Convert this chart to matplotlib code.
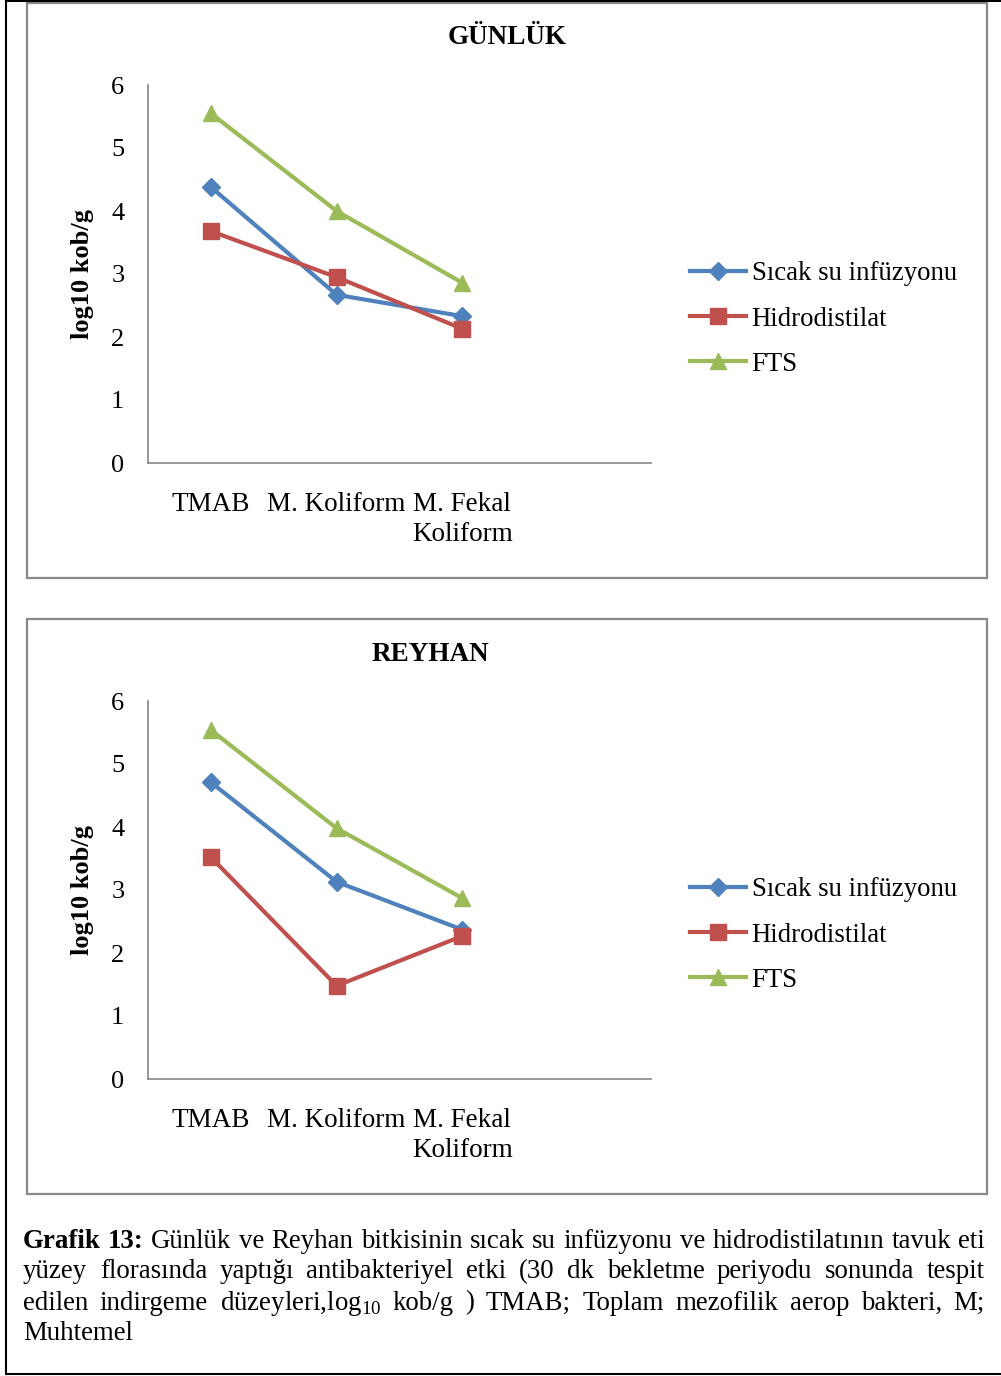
import matplotlib
matplotlib.use("Agg")
import matplotlib.pyplot as plt
from matplotlib.lines import Line2D
from matplotlib.patches import Rectangle

plt.rcParams['font.family'] = ['Liberation Serif', 'DejaVu Serif']
plt.rcParams['mathtext.fontset'] = 'custom'
plt.rcParams['mathtext.rm'] = 'Liberation Serif'

W, H = 1001, 1376

# Veriler
kategoriler = ['TMAB', 'M. Koliform', 'M. Fekal\nKoliform']
seriler = ['Sıcak su infüzyonu', 'Hidrodistilat', 'FTS']
gunluk_sicak = [4.38, 2.67, 2.33]
gunluk_hidro = [3.68, 2.95, 2.13]
gunluk_fts = [5.55, 4.00, 2.86]
reyhan_sicak = [4.71, 3.13, 2.37]
reyhan_hidro = [3.52, 1.48, 2.27]
reyhan_fts = [5.54, 3.98, 2.87]
y_ticks = [0, 1, 2, 3, 4, 5, 6]

renkler = ['#4F81BD', '#C0504D', '#9BBB59']
isaretler = ['D', 's', '^']
boyutlar = [9, 11, 11]

caption_lines = [
    ['Grafik', '13:', 'Günlük', 've', 'Reyhan', 'bitkisinin', 'sıcak', 'su', 'infüzyonu', 've',
     'hidrodistilatının', 'tavuk', 'eti'],
    ['yüzey', 'florasında', 'yaptığı', 'antibakteriyel', 'etki', '(30', 'dk', 'bekletme',
     'periyodu', 'sonunda', 'tespit'],
    ['edilen', 'indirgeme', r'düzeyleri,log$_{\mathrm{10}}$', 'kob/g', ')', 'TMAB;', 'Toplam',
     'mezofilik', 'aerop', 'bakteri,', 'M;'],
    ['Muhtemel'],
]

fig = plt.figure(figsize=(W / 100, H / 100), dpi=100)


def px_rect(x0, y0, x1, y1):
    return [x0 / W, 1 - y1 / H, (x1 - x0) / W, (y1 - y0) / H]


def fx(x):
    return x / W


def fy(y):
    return 1 - y / H


# dis cerceve
fig.add_artist(Line2D([fx(6), fx(6)], [fy(0), fy(1374)], color='black', lw=1.5))
fig.add_artist(Line2D([fx(6), fx(1001)], [fy(1374), fy(1374)], color='black', lw=1.5))
fig.add_artist(Line2D([fx(6), fx(1001)], [fy(0.5), fy(0.5)], color='black', lw=1.5))


def panel(top, baslik, baslik_x, d_sicak, d_hidro, d_fts):
    fig.add_artist(Rectangle((fx(27), fy(top + 575)), fx(987) - fx(27), fy(top) - fy(top + 575),
                             fill=False, edgecolor='#888888', lw=1.6))
    ax = fig.add_axes(px_rect(148, top + 82, 651, top + 460))
    x = list(range(len(kategoriler)))
    for vals, c, m, ms, lab in zip([d_sicak, d_hidro, d_fts], renkler, isaretler, boyutlar, seriler):
        ax.plot(x, vals, color=c, marker=m, markersize=ms, lw=3, label=lab, clip_on=False)
    ax.set_xlim(-0.5, 3.5)
    ax.set_ylim(0, 6)
    ax.set_yticks(y_ticks)
    ax.set_xticks(x)
    ax.set_xticklabels(kategoriler, fontsize=19.5, linespacing=1.25)
    ax.tick_params(axis='y', length=0, labelsize=19, pad=17)
    ax.tick_params(axis='x', length=0, pad=21)
    for s in ['top', 'right']:
        ax.spines[s].set_visible(False)
    for s in ['left', 'bottom']:
        ax.spines[s].set_color('#868686')
        ax.spines[s].set_linewidth(1.2)
    ax.set_ylabel('log10 kob/g', fontsize=19, fontweight='bold', labelpad=12)
    fig.text(fx(baslik_x), fy(top + 35), baslik, fontsize=19.5, fontweight='bold',
             ha='center', va='center')
    fig.legend(*ax.get_legend_handles_labels(), loc='center left',
               bbox_to_anchor=(fx(690), fy(top + 316)), bbox_transform=fig.transFigure,
               frameon=False, fontsize=19.3, handlelength=2.1, handletextpad=0.2,
               labelspacing=0.76, borderpad=0, borderaxespad=0)
    return ax


panel(3, 'GÜNLÜK', 507, gunluk_sicak, gunluk_hidro, gunluk_fts)
panel(619, 'REYHAN', 430, reyhan_sicak, reyhan_hidro, reyhan_fts)

# alt yazi, iki yana yasli
renderer = fig.canvas.get_renderer()
x_left, x_right = 23, 985
line_y = [1242, 1272, 1303, 1333]
for i, words in enumerate(caption_lines):
    texts = []
    for j, w in enumerate(words):
        bold = (i == 0 and j < 2)
        t = fig.text(0, fy(line_y[i]), w, fontsize=19.4, va='center', ha='left',
                     fontweight='bold' if bold else 'normal')
        texts.append(t)
    widths = [t.get_window_extent(renderer).width for t in texts]
    if i < len(caption_lines) - 1 and len(texts) > 1:
        gap = (x_right - x_left - sum(widths)) / (len(texts) - 1)
    else:
        gap = 5
    xpos = x_left
    for t, wd in zip(texts, widths):
        t.set_x(fx(xpos))
        xpos += wd + gap

fig.savefig('out.png', dpi=100)
